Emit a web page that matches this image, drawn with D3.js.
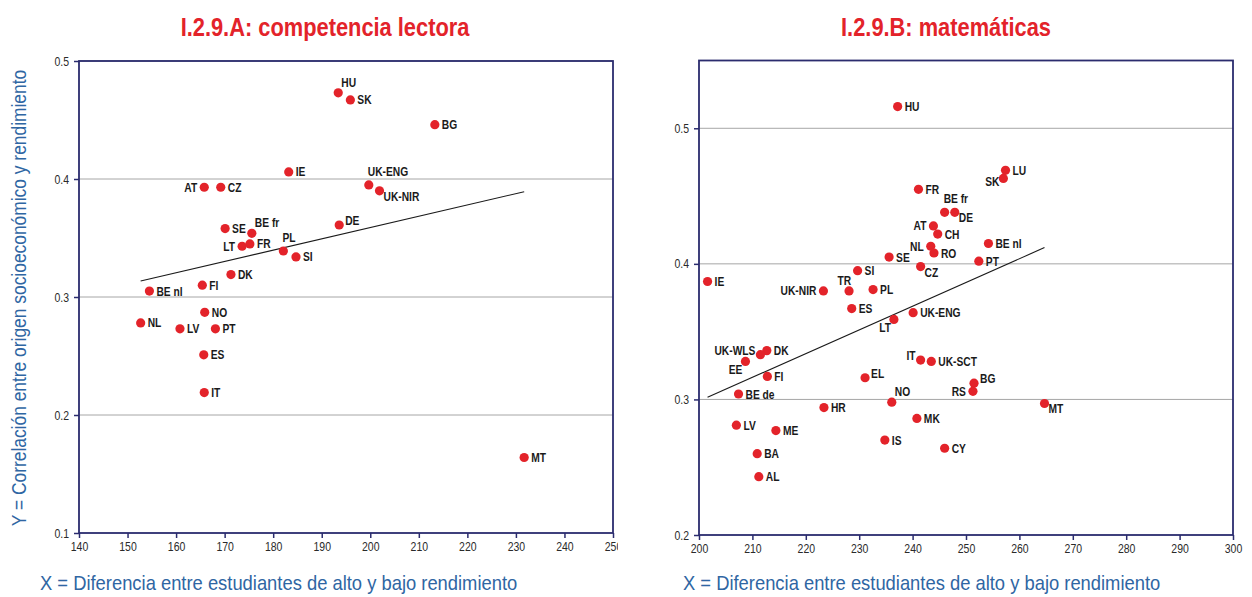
<!DOCTYPE html>
<html>
<head>
<meta charset="utf-8">
<script src="https://cdn.jsdelivr.net/npm/d3@7/dist/d3.min.js"></script>
<style>
  html, body { margin: 0; padding: 0; background: #ffffff; }
  svg { display: block; }
  text { font-family: "Liberation Sans", Arial, sans-serif; }
</style>
</head>
<body>
<svg id="chart" width="1252" height="597"></svg>
<script>
// Panel A: reading literacy
const lectoraCodes = ["HU", "SK", "BG", "IE", "AT", "CZ", "UK-ENG", "UK-NIR", "DE", "SE",
  "BE fr", "FR", "LT", "PL", "SI", "DK", "FI", "BE nl", "NO", "NL", "LV", "PT", "ES", "IT", "MT"];
const lectoraX = [193.4, 195.9, 213.3, 183.2, 165.8, 169.2, 199.7, 201.9, 193.6, 170.1,
  175.6, 175.2, 173.6, 182.1, 184.7, 171.3, 165.4, 154.5, 165.9, 152.7, 160.8, 168.1, 165.7, 165.8, 231.7];
const lectoraY = [0.473, 0.467, 0.446, 0.406, 0.393, 0.393, 0.395, 0.390, 0.361, 0.358,
  0.354, 0.345, 0.343, 0.339, 0.334, 0.319, 0.310, 0.305, 0.287, 0.278, 0.273, 0.273, 0.251, 0.219, 0.164];
const lectoraTrendX = [152.7, 231.7];
const lectoraTrendY = [0.3136, 0.3892];
const lectoraXTicks = [140, 150, 160, 170, 180, 190, 200, 210, 220, 230, 240, 250];
const lectoraYTicks = [0.1, 0.2, 0.3, 0.4, 0.5];

// Panel B: mathematics
const mateCodes = ["HU", "FR", "AT", "CH", "NL", "RO", "SE", "CZ", "SI", "IE", "UK-NIR", "TR", "PL",
  "LU", "SK", "BE fr", "DE", "BE nl", "PT", "ES", "UK-ENG", "LT", "DK", "UK-WLS", "EE", "IT", "UK-SCT",
  "FI", "EL", "BE de", "NO", "HR", "LV", "MK", "ME", "IS", "CY", "BA", "AL", "BG", "RS", "MT"];
const mateX = [237.2, 241.1, 243.9, 244.7, 243.4, 244.0, 235.6, 241.5, 229.7, 201.6, 223.3, 228.1, 232.6,
  257.4, 257.0, 246.0, 247.9, 254.2, 252.4, 228.6, 240.1, 236.5, 212.7, 211.5, 208.7, 241.5, 243.5,
  212.8, 231.1, 207.4, 236.1, 223.4, 207.0, 240.8, 214.4, 234.8, 246.0, 210.9, 211.2, 251.5, 251.3, 264.7];
const mateY = [0.516, 0.455, 0.428, 0.422, 0.413, 0.408, 0.405, 0.398, 0.395, 0.387, 0.380, 0.380, 0.381,
  0.469, 0.463, 0.438, 0.438, 0.415, 0.402, 0.367, 0.364, 0.359, 0.336, 0.333, 0.328, 0.329, 0.328,
  0.317, 0.316, 0.304, 0.298, 0.294, 0.281, 0.286, 0.277, 0.270, 0.264, 0.260, 0.243, 0.312, 0.306, 0.297];
const mateTrendX = [201.6, 264.7];
const mateTrendY = [0.3016, 0.412];
const mateXTicks = [200, 210, 220, 230, 240, 250, 260, 270, 280, 290, 300];
const mateYTicks = [0.2, 0.3, 0.4, 0.5];

const titles = ["I.2.9.A: competencia lectora", "I.2.9.B: matemáticas"];
const yTitle = "Y = Correlación entre origen socioeconómico y rendimiento";
const xTitle = "X = Diferencia entre estudiantes de alto y bajo rendimiento";

// label placement codes: [dx, baseline offset, anchor]
const place = {
  r:  [7, 4.5, "start"],
  l:  [-7, 4.5, "end"],
  ru: [6, 0, "start"],
  rd: [4, 10, "start"],
  ar: [3, -6, "start"],
  a:  [-1, -9, "start"],
  al: [2, -6, "end"],
  ld: [-3, 13, "end"],
  lm: [-4, 8, "end"],
  lu: [-5, 0, "end"]
};
const lectoraPlace = { "HU": "ar", "UK-ENG": "a", "UK-NIR": "rd", "DE": "ru", "BE fr": "ar", "PL": "a", "AT": "l", "LT": "l" };
const matePlace = { "BE fr": "a", "DE": "rd", "CZ": "rd", "TR": "al", "SK": "lm", "LT": "ld", "EE": "ld",
  "UK-WLS": "lu", "IT": "lu", "EL": "ru", "NO": "ar", "BG": "ru", "MT": "rd", "RS": "l", "AT": "l",
  "NL": "l", "UK-NIR": "l" };

const RED = "#e3232a";
const NAVY = "#2b2c6e";
const BLUE = "#2f66a3";
const GRID = "#a6a6a6";

const svg = d3.select("#chart");

// condensed lettering: move the text origin into a transform and squeeze horizontally
function squeeze(sel, sx, extra) {
  sel.each(function () {
    const t = d3.select(this);
    const px = +t.attr("x") || 0, py = +t.attr("y") || 0;
    t.attr("x", 0).attr("y", 0)
      .attr("transform", `translate(${px},${py})${extra || ""} scale(${sx},1)`);
  });
}

function panel(cfg) {
  const g = svg.append("g");
  if (cfg.clipRight) {
    const id = "clip-" + cfg.id;
    svg.append("clipPath").attr("id", id).append("rect")
      .attr("x", 0).attr("y", 0).attr("width", cfg.clipRight).attr("height", 597);
    g.attr("clip-path", `url(#${id})`);
  }
  const x = d3.scaleLinear().domain(cfg.xDomain).range([cfg.left, cfg.right]);
  const y = d3.scaleLinear().domain(cfg.yDomain).range([cfg.bottom, cfg.top]);

  // horizontal gridlines
  g.append("g").selectAll("line").data(cfg.yTicks.filter(v => v > cfg.yDomain[0]))
    .join("line")
    .attr("x1", cfg.left).attr("x2", cfg.right)
    .attr("y1", d => y(d)).attr("y2", d => y(d))
    .attr("stroke", GRID).attr("stroke-width", 1);

  // axes
  const xAxis = d3.axisBottom(x).tickValues(cfg.xTicks).tickFormat(d3.format("d")).tickSize(5).tickPadding(4);
  const yAxis = d3.axisLeft(y).tickValues(cfg.yTicks).tickFormat(d => d.toString()).tickSize(5).tickPadding(5);
  const gx = g.append("g").attr("transform", `translate(0,${cfg.bottom})`).call(xAxis);
  const gy = g.append("g").attr("transform", `translate(${cfg.left},0)`).call(yAxis);
  [gx, gy].forEach(a => {
    a.select(".domain").remove();
    a.selectAll(".tick line").attr("stroke", NAVY).attr("stroke-width", 1.5);
    a.selectAll(".tick text").attr("font-family", "Liberation Sans, Arial, sans-serif")
      .attr("font-size", 12.5).attr("fill", "#2a2a2a")
      .call(squeeze, 0.84);
  });

  // plot frame
  g.append("rect")
    .attr("x", cfg.left).attr("y", cfg.top)
    .attr("width", cfg.right - cfg.left).attr("height", cfg.bottom - cfg.top)
    .attr("fill", "none").attr("stroke", NAVY).attr("stroke-width", 1.8);

  // trend line
  const pts = cfg.trendX.map((v, i) => [x(v), y(cfg.trendY[i])]);
  g.append("path").attr("d", d3.line()(pts))
    .attr("stroke", "#1a1a1a").attr("stroke-width", 1.1).attr("fill", "none");

  // points
  const data = cfg.codes.map((c, i) => ({ code: c, x: cfg.xs[i], y: cfg.ys[i] }));
  g.append("g").selectAll("circle").data(data).join("circle")
    .attr("cx", d => x(d.x)).attr("cy", d => y(d.y)).attr("r", 4.6)
    .attr("fill", RED);

  // point labels
  g.append("g").selectAll("text").data(data).join("text")
    .attr("font-size", 12.5).attr("font-weight", "bold").attr("fill", "#1a1a1a")
    .each(function (d) {
      const p = place[cfg.placement[d.code] || "r"];
      d3.select(this)
        .attr("x", x(d.x) + p[0]).attr("y", y(d.y) + p[1])
        .attr("text-anchor", p[2]).text(d.code);
    })
    .call(squeeze, 0.82);

  // title
  svg.append("text")
    .attr("x", cfg.titleX).attr("y", 36).attr("text-anchor", "middle")
    .attr("font-size", 26).attr("font-weight", "bold").attr("fill", RED)
    .text(cfg.title)
    .call(squeeze, 0.84);

  // x-axis title
  svg.append("text")
    .attr("x", cfg.xTitleX).attr("y", 590).attr("text-anchor", "start")
    .attr("font-size", 21).attr("fill", BLUE)
    .text(xTitle)
    .call(squeeze, 0.875);
}

panel({
  id: "a", title: titles[0], titleX: 325, xTitleX: 40, clipRight: 618,
  left: 79, right: 613, top: 61, bottom: 533,
  xDomain: [140, 250], yDomain: [0.1, 0.5],
  xTicks: lectoraXTicks, yTicks: lectoraYTicks,
  codes: lectoraCodes, xs: lectoraX, ys: lectoraY,
  trendX: lectoraTrendX, trendY: lectoraTrendY, placement: lectoraPlace
});

panel({
  id: "b", title: titles[1], titleX: 946, xTitleX: 683,
  left: 699, right: 1233, top: 60.5, bottom: 535,
  xDomain: [200, 300], yDomain: [0.2, 0.55],
  xTicks: mateXTicks, yTicks: mateYTicks,
  codes: mateCodes, xs: mateX, ys: mateY,
  trendX: mateTrendX, trendY: mateTrendY, placement: matePlace
});

// shared y-axis title
svg.append("text")
  .attr("x", 26).attr("y", 298)
  .attr("text-anchor", "middle").attr("font-size", 20).attr("fill", BLUE)
  .text(yTitle)
  .call(squeeze, 0.87, " rotate(-90)");
</script>
</body>
</html>
